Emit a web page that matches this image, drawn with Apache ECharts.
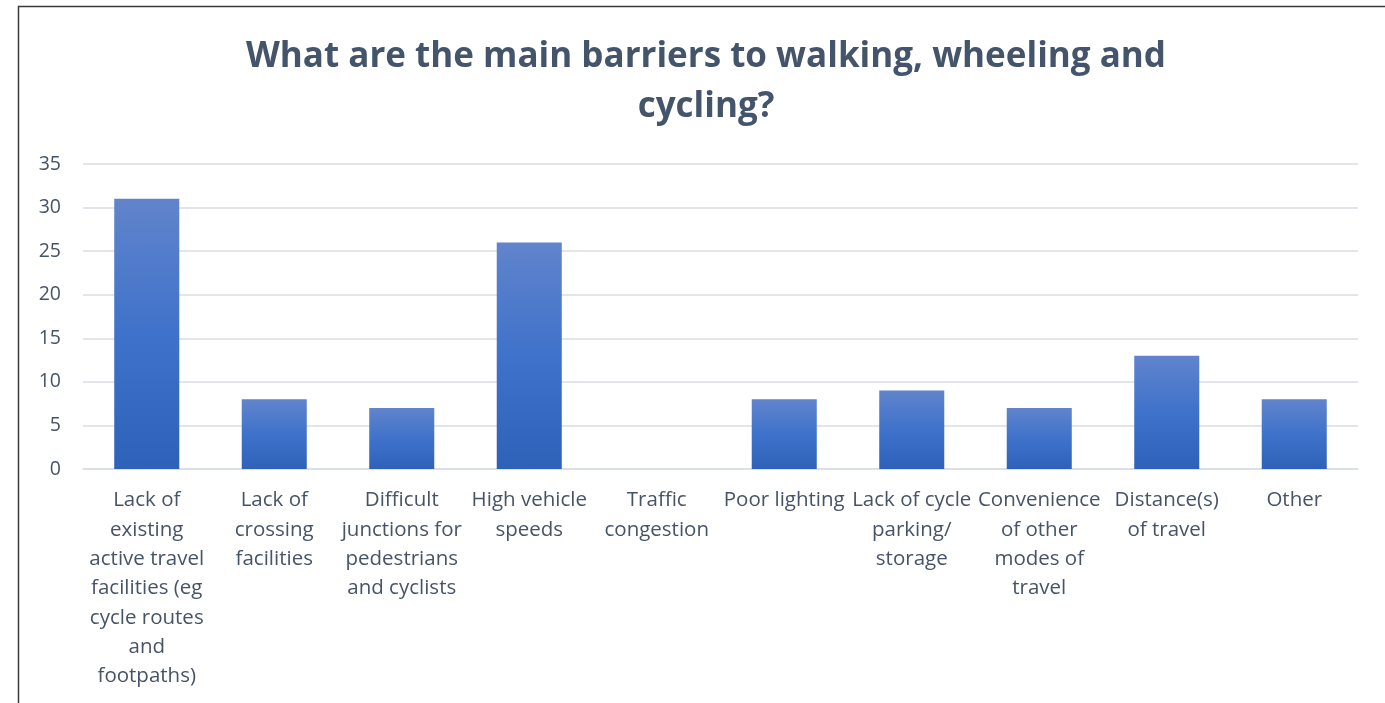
<!DOCTYPE html>
<html>
<head>
<meta charset="utf-8">
<script src="https://cdn.jsdelivr.net/npm/echarts@6/dist/echarts.min.js"></script>
<style>
  html, body { margin: 0; padding: 0; background: #fff; }
  #chart { width: 1385px; height: 703px; }
</style>
</head>
<body>
<div id="chart"></div>
<script>
// barrier categories (line breaks as in the original label wrapping)
var categories = [
  "Lack of\nexisting\nactive travel\nfacilities (eg\ncycle routes\nand\nfootpaths)",
  "Lack of\ncrossing\nfacilities",
  "Difficult\njunctions for\npedestrians\nand cyclists",
  "High vehicle\nspeeds",
  "Traffic\ncongestion",
  "Poor lighting",
  "Lack of cycle\nparking/\nstorage",
  "Convenience\nof other\nmodes of\ntravel",
  "Distance(s)\nof travel",
  "Other"
];
var counts = [31, 8, 7, 26, 0, 8, 9, 7, 13, 8];

var textColor = "#475467";
var chart = echarts.init(document.getElementById("chart"));
chart.setOption({
  animation: false,
  title: {
    text: "What are the main barriers to walking, wheeling and\ncycling?",
    left: 701,
    textAlign: "center",
    top: 27,
    textStyle: {
      fontFamily: "Open Sans",
      fontWeight: "bold",
      fontSize: 35,
      lineHeight: 50,
      color: "#44546A"
    }
  },
  graphic: [
    {
      type: "rect",
      shape: { x: 18.5, y: 6.5, width: 1400, height: 800 },
      style: { fill: "none", stroke: "#3a3a3a", lineWidth: 1.5 },
      silent: true
    }
  ],
  grid: {
    left: 83,
    right: 27,
    top: 164,
    bottom: 234
  },
  xAxis: {
    type: "category",
    data: categories,
    axisLine: { lineStyle: { color: "#D9DEE5", width: 1.5 } },
    axisTick: { show: false },
    axisLabel: {
      interval: 0,
      margin: 17,
      fontFamily: "Open Sans",
      fontSize: 20.5,
      lineHeight: 29.3,
      color: textColor,
      verticalAlign: "top"
    }
  },
  yAxis: {
    type: "value",
    min: 0,
    max: 35,
    interval: 5,
    axisLine: { show: false },
    axisTick: { show: false },
    splitLine: { lineStyle: { color: "#D9DEE5", width: 1.5 } },
    axisLabel: {
      margin: 22,
      fontFamily: "Open Sans",
      fontSize: 19.5,
      color: textColor
    }
  },
  series: [
    {
      type: "bar",
      data: counts,
      barWidth: "51%",
      itemStyle: {
        color: new echarts.graphic.LinearGradient(0, 0, 0, 1, [
          { offset: 0, color: "#6184CC" },
          { offset: 0.5, color: "#3F72CA" },
          { offset: 1, color: "#2E61B8" }
        ])
      }
    }
  ]
});
</script>
</body>
</html>
